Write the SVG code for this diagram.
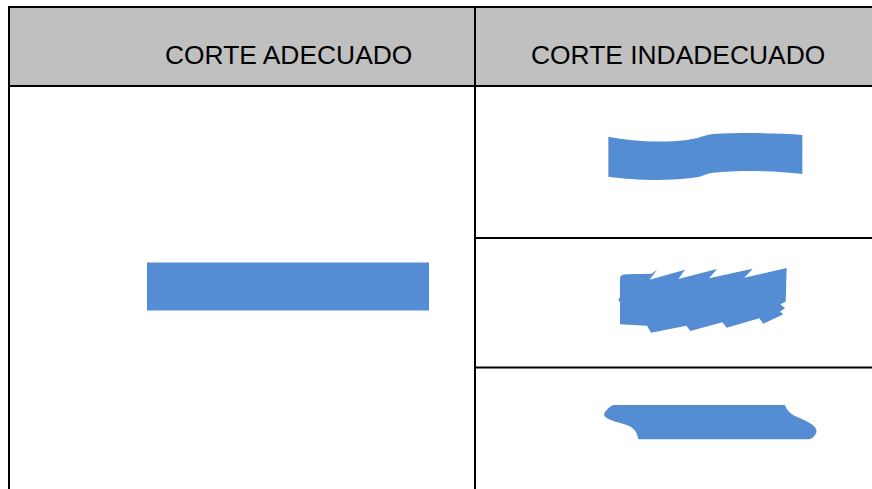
<svg xmlns="http://www.w3.org/2000/svg" width="872" height="489" viewBox="0 0 872 489">
  <style>
    .hdr { fill: #C0C0C0; }
    .grid { stroke: #000000; stroke-width: 2; fill: none; }
    .lbl { font-family: "Liberation Sans", Arial, sans-serif; font-size: 26.4px; fill: #000000; }
    .shape { fill: #548DD4; stroke: none; }
  </style>
  <rect width="872" height="489" fill="#ffffff"/>
  <g id="header">
    <rect class="hdr" x="9" y="7" width="863" height="79"/>
    <text class="lbl" x="165" y="64">CORTE ADECUADO</text>
    <text class="lbl" x="531" y="64">CORTE INDADECUADO</text>
  </g>
  <g id="grid-lines">
    <line class="grid" x1="8" y1="7" x2="872" y2="7"/>
    <line class="grid" x1="8" y1="86" x2="872" y2="86"/>
    <line class="grid" x1="9" y1="6" x2="9" y2="489"/>
    <line class="grid" x1="475" y1="6" x2="475" y2="489"/>
    <line class="grid" x1="475" y1="238" x2="872" y2="238"/>
    <line class="grid" x1="475" y1="367.5" x2="872" y2="367.5"/>
  </g>
  <g id="corte-adecuado">
    <rect class="shape" x="147" y="262.5" width="282" height="48"/>
  </g>
  <g id="corte-ondulado" transform="translate(590,120) scale(0.33333)">
    <path class="shape" d="M55,50 C120,62 200,70 290,60 C330,55 340,45 370,42 C450,38 560,38 637,45 L637,162 C560,152 450,150 370,158 C350,160 345,166 320,172 C230,185 130,180 55,170 Z"/>
  </g>
  <g id="corte-dentado" transform="translate(615,265) scale(0.33333)">
    <path class="shape" d="M15,40 Q15,28 35,28 L110,26 L126,14 L104,44 L210,14 L190,42 L306,12 L282,40 L413,11 L388,38 L515,9 L512,110 L496,118 L510,130 L495,140 L505,148 L445,176 L433,160 L335,188 L322,172 L226,198 L214,182 L108,203 L96,182 L15,178 L15,112 L10,104 L15,96 Z"/>
  </g>
  <g id="corte-irregular" transform="translate(590,395) scale(0.33333)">
    <path class="shape" d="M70,30 L585,30 C590,45 600,58 630,70 C665,85 690,100 675,120 Q668,132 655,133 L145,133 C142,115 135,100 115,92 C90,82 60,78 45,65 Q38,56 50,45 Q60,33 70,30 Z"/>
  </g>
</svg>
